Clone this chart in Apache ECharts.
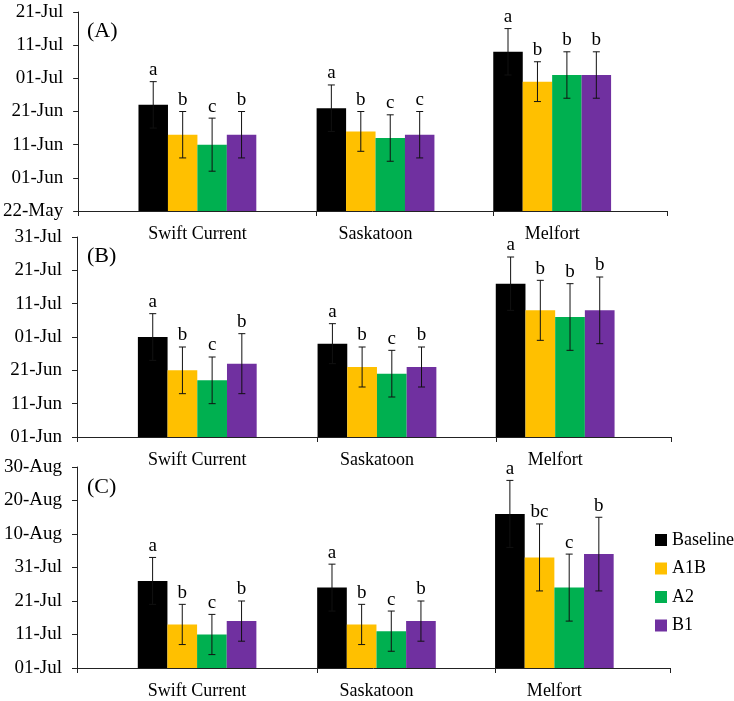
<!DOCTYPE html>
<html><head><meta charset="utf-8">
<script src="https://cdn.jsdelivr.net/npm/echarts@6/dist/echarts.min.js"></script>
<style>html,body{margin:0;padding:0;background:#fff}#c{width:734px;height:701px}</style>
</head><body><div id="c"></div>
<script>
// ---------- DATA ----------
const sites = ['Swift Current', 'Saskatoon', 'Melfort'];
const scenarios = ['Baseline', 'A1B', 'A2', 'B1'];
const panelLabels = ['(A)', '(B)', '(C)'];

const ticksA = ['22-May', '01-Jun', '11-Jun', '21-Jun', '01-Jul', '11-Jul', '21-Jul'];
const ticksB = ['01-Jun', '11-Jun', '21-Jun', '01-Jul', '11-Jul', '21-Jul', '31-Jul'];
const ticksC = ['01-Jul', '11-Jul', '21-Jul', '31-Jul', '10-Aug', '20-Aug', '30-Aug'];

// Panel A: mean dates (Swift Current, Saskatoon, Melfort)
const A_Baseline = ['23-Jun', '22-Jun', '09-Jul'];
const A_A1B      = ['14-Jun', '15-Jun', '30-Jun'];
const A_A2       = ['11-Jun', '13-Jun', '02-Jul'];
const A_B1       = ['14-Jun', '14-Jun', '02-Jul'];
const A_err_Baseline = [7, 7, 7];
const A_err_A1B      = [7, 6, 6];
const A_err_A2       = [8, 7, 7];
const A_err_B1       = [7, 7, 7];
const A_let_Baseline = ['a', 'a', 'a'];
const A_let_A1B      = ['b', 'b', 'b'];
const A_let_A2       = ['c', 'c', 'b'];
const A_let_B1       = ['b', 'c', 'b'];

// Panel B
const B_Baseline = ['01-Jul', '29-Jun', '17-Jul'];
const B_A1B      = ['21-Jun', '22-Jun', '09-Jul'];
const B_A2       = ['18-Jun', '20-Jun', '07-Jul'];
const B_B1       = ['23-Jun', '22-Jun', '09-Jul'];
const B_err_Baseline = [7, 6, 8];
const B_err_A1B      = [7, 6, 9];
const B_err_A2       = [7, 7, 10];
const B_err_B1       = [9, 6, 10];
const B_let_Baseline = ['a', 'a', 'a'];
const B_let_A1B      = ['b', 'b', 'b'];
const B_let_A2       = ['c', 'c', 'b'];
const B_let_B1       = ['b', 'b', 'b'];

// Panel C
const C_Baseline = ['27-Jul', '25-Jul', '16-Aug'];
const C_A1B      = ['14-Jul', '14-Jul', '03-Aug'];
const C_A2       = ['11-Jul', '12-Jul', '25-Jul'];
const C_B1       = ['15-Jul', '15-Jul', '04-Aug'];
const C_err_Baseline = [7, 7, 10];
const C_err_A1B      = [6, 6, 10];
const C_err_A2       = [6, 6, 10];
const C_err_B1       = [6, 6, 11];
const C_let_Baseline = ['a', 'a', 'a'];
const C_let_A1B      = ['b', 'b', 'bc'];
const C_let_A2       = ['c', 'c', 'c'];
const C_let_B1       = ['b', 'b', 'b'];

// ---------- BUILD ----------
const colors = ['#000000', '#FFC000', '#00B050', '#7030A0'];
const FONT = 'Liberation Serif';
const months = {Jan:0,Feb:1,Mar:2,Apr:3,May:4,Jun:5,Jul:6,Aug:7,Sep:8,Oct:9,Nov:10,Dec:11};
function dayNum(s) { const [d, m] = s.split('-'); return Date.UTC(2001, months[m], +d) / 86400000; }

const panels = [
  {ticks: ticksA, means: [A_Baseline, A_A1B, A_A2, A_B1], errs: [A_err_Baseline, A_err_A1B, A_err_A2, A_err_B1], lets: [A_let_Baseline, A_let_A1B, A_let_A2, A_let_B1]},
  {ticks: ticksB, means: [B_Baseline, B_A1B, B_A2, B_B1], errs: [B_err_Baseline, B_err_A1B, B_err_A2, B_err_B1], lets: [B_let_Baseline, B_let_A1B, B_let_A2, B_let_B1]},
  {ticks: ticksC, means: [C_Baseline, C_A1B, C_A2, C_B1], errs: [C_err_Baseline, C_err_A1B, C_err_A2, C_err_B1], lets: [C_let_Baseline, C_let_A1B, C_let_A2, C_let_B1]}
];

const grids = [
  {left: 77, top: 12, width: 590, height: 199},
  {left: 77, top: 237, width: 594, height: 200},
  {left: 77, top: 467, width: 593, height: 201}
];
const panelLabelY = [32, 257, 488];
const groupStart = [2.05, 8.1, 14.1];           // slot layout (x units)
const boundaries = [0, 8.1, 14.1, 20];
const labelCenters = groupStart.map(s => s + 2);

const xAxes = [], yAxes = [], series = [], graphics = [];
panels.forEach((p, pi) => {
  const base = dayNum(p.ticks[0]);
  const unitPx = grids[pi].width / 20;
  xAxes.push({
    type: 'value', gridIndex: pi, min: 0, max: 20,
    splitLine: {show: false},
    axisLine: {show: true, lineStyle: {color: '#222', width: 1}},
    axisTick: {show: true, length: 5, customValues: boundaries, lineStyle: {color: '#222'}},
    axisLabel: {
      customValues: labelCenters, margin: 14,
      fontFamily: FONT, fontSize: 18, color: '#000',
      formatter: v => { let best = 0; labelCenters.forEach((c, i) => { if (Math.abs(c - v) < Math.abs(labelCenters[best] - v)) best = i; }); return sites[best]; }
    }
  });
  yAxes.push({
    type: 'value', gridIndex: pi, min: 0, max: 60, interval: 10,
    splitLine: {show: false},
    axisLine: {show: true, lineStyle: {color: '#222', width: 1}},
    axisTick: {show: true, length: 5, inside: false, lineStyle: {color: '#222'}},
    axisLabel: {margin: 15, fontFamily: FONT, fontSize: 19, color: '#000',
      formatter: v => p.ticks[Math.round(v / 10)]}
  });
  const errData = [], errLetters = [];
  scenarios.forEach((sc, si) => {
    const data = sites.map((s, ci) => [groupStart[ci] + si + 0.5, dayNum(p.means[si][ci]) - base]);
    series.push({
      type: 'bar', name: sc, xAxisIndex: pi, yAxisIndex: pi,
      barWidth: unitPx, barGap: '-100%',
      itemStyle: {color: colors[si]},
      data: data, z: 2
    });
    sites.forEach((s, ci) => {
      errData.push([groupStart[ci] + si + 0.5, dayNum(p.means[si][ci]) - base, p.errs[si][ci]]);
      errLetters.push(p.lets[si][ci]);
    });
  });
  series.push({
    type: 'custom', xAxisIndex: pi, yAxisIndex: pi, z: 5, clip: false,
    data: errData,
    renderItem: (params, api) => {
      const x = api.value(0), y = api.value(1), e = api.value(2);
      const t = api.coord([x, y + e]), b = api.coord([x, y - e]);
      const cap = 3.5, st = {stroke: '#111', lineWidth: 1};
      return {type: 'group', children: [
        {type: 'line', shape: {x1: t[0], y1: t[1], x2: b[0], y2: b[1]}, style: st},
        {type: 'line', shape: {x1: t[0] - cap, y1: t[1], x2: t[0] + cap, y2: t[1]}, style: st},
        {type: 'line', shape: {x1: b[0] - cap, y1: b[1], x2: b[0] + cap, y2: b[1]}, style: st},
        {type: 'text', x: t[0], y: t[1] - 2, style: {text: errLetters[params.dataIndex], fontFamily: FONT, fontSize: 19, fill: '#000', align: 'center', verticalAlign: 'bottom'}}
      ]};
    }
  });
  graphics.push({type: 'text', left: 87, top: panelLabelY[pi] - 12,
    style: {text: panelLabels[pi], fontFamily: FONT, fontSize: 22, fill: '#000'}});
});

const chart = echarts.init(document.getElementById('c'));
chart.setOption({
  animation: false,
  backgroundColor: '#fff',
  grid: grids,
  xAxis: xAxes,
  yAxis: yAxes,
  series: series,
  graphic: graphics,
  legend: {
    data: scenarios, orient: 'vertical', left: 650, top: 526,
    itemWidth: 12, itemHeight: 12, itemGap: 10.5, icon: 'rect',
    textStyle: {fontFamily: FONT, fontSize: 18, color: '#000'}
  }
});
</script>
</body></html>
